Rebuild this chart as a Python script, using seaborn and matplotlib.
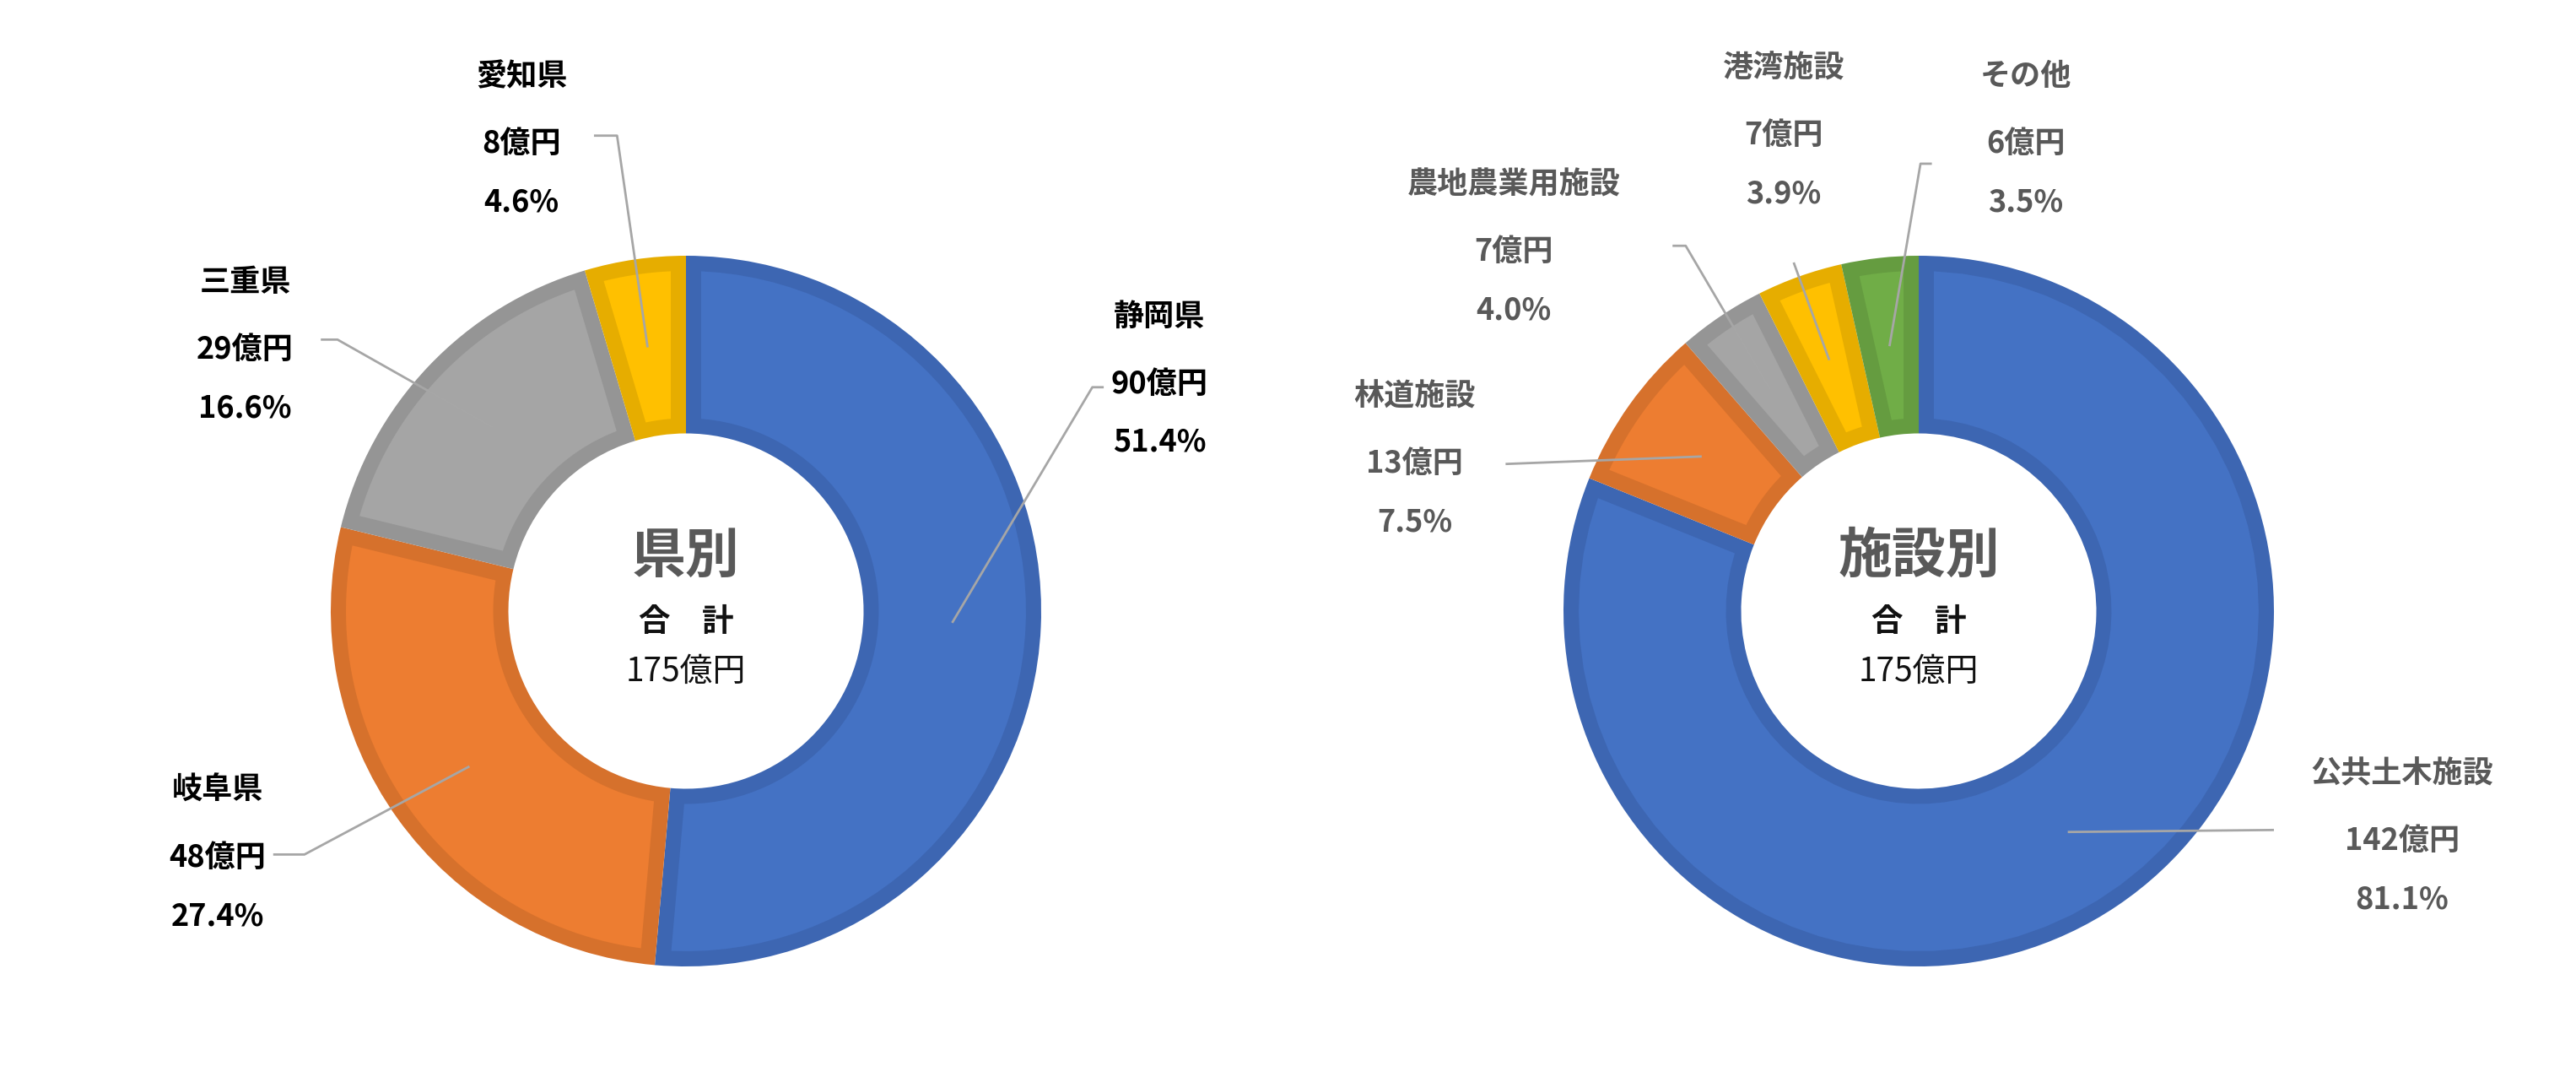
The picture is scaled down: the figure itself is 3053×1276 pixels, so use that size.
import numpy as np
import matplotlib
matplotlib.use("Agg")
import matplotlib.pyplot as plt
from matplotlib.patches import Polygon
import seaborn as sns

# 県別
pref_names = ["静岡県", "岐阜県", "三重県", "愛知県"]
pref_oku = [90, 48, 29, 8]
pref_pct = [51.4, 27.4, 16.6, 4.6]

# 施設別
fac_names = ["公共土木施設", "林道施設", "農地農業用施設", "港湾施設", "その他"]
fac_oku = [142, 13, 7, 7, 6]
fac_pct = [81.1, 7.5, 4.0, 3.9, 3.5]

total_oku = 175

sns.set_theme(style="white")
plt.rcParams['font.family'] = ['Noto Sans CJK JP', 'DejaVu Sans']

fills = ["#4472C4", "#ED7D31", "#A5A5A5", "#FFC000", "#70AD47"]
edges = ["#3D66B2", "#D6712C", "#959595", "#E6AD00", "#659C40"]

W, H = 3053, 1276
R_PX = 421
L = 1.7
RIN = 0.5
BORDER = 18 / R_PX   # inner border width in data units

fig = plt.figure(figsize=(W / 100, H / 100), dpi=100)


def make_ax(cx, cy):
    w = 2 * L * R_PX / W
    h = 2 * L * R_PX / H
    ax = fig.add_axes([cx / W - w / 2, 1 - cy / H - h / 2, w, h])
    return ax


def inset_poly(t1, t2, d):
    # annular sector shrunk inward by d on every side
    pts = []
    for r, rev in [(1 - d, False), (RIN + d, True)]:
        off = np.rad2deg(np.arcsin(d / r))
        a = np.linspace(t1 + off, t2 - off, 60)
        if rev:
            a = a[::-1]
        pts += [(r * np.cos(np.deg2rad(t)), r * np.sin(np.deg2rad(t))) for t in a]
    return np.array(pts)


def donut(ax, names, oku, pct, title, txt_color, label_pos, leader_pos):
    wedges, _ = ax.pie(pct, startangle=90, counterclock=False, radius=1.0,
                       colors=edges[:len(pct)],
                       wedgeprops=dict(width=1 - RIN, linewidth=0))
    ax.set_xlim(-L, L)
    ax.set_ylim(-L, L)
    ax.set_aspect("equal")
    ax.axis("off")
    for wd, fc in zip(wedges, fills):
        ax.add_patch(Polygon(inset_poly(wd.theta1, wd.theta2, BORDER),
                             closed=True, facecolor=fc, edgecolor="none"))

    cum = np.cumsum([0] + list(pct))
    tot = cum[-1]
    for i, name in enumerate(names):
        mid = (cum[i] + cum[i + 1]) / 2 / tot * 360
        ang = np.deg2rad(90 - mid)
        ex, ey = 0.75 * np.cos(ang), 0.75 * np.sin(ang)
        (sx, sy), (kx, ky) = leader_pos[i]
        ax.plot([sx, kx, ex], [sy, ky, ey], color="#A6A6A6", lw=2,
                clip_on=False, solid_capstyle="butt", zorder=5)
        tx, ty = label_pos[i]
        kw = dict(ha="center", va="center", fontsize=26, fontweight="bold",
                  color=txt_color)
        ax.text(tx, ty + 0.19, name, **kw)
        ax.text(tx, ty, f"{oku[i]}億円", **kw)
        ax.text(tx, ty - 0.165, f"{pct[i]:.1f}%", **kw)

    ax.text(0, 0.155, title, ha="center", va="center", fontsize=46,
            fontweight="bold", color="#595959")
    ax.text(0, -0.03, "合　計", ha="center", va="center", fontsize=27,
            fontweight="bold", color="#111111")
    ax.text(0, -0.17, f"{total_oku}億円", ha="center", va="center",
            fontsize=28, color="#111111")


ax1 = make_ax(813, 724)
donut(ax1, pref_names, pref_oku, pref_pct, "県別", "#000000",
      [(1.333, 0.639), (-1.319, -0.694), (-1.241, 0.736), (-0.463, 1.315)],
      [((1.176, 0.63), (1.144, 0.63)),
       ((-1.162, -0.685), (-1.074, -0.685)),
       ((-1.028, 0.764), (-0.981, 0.764)),
       ((-0.259, 1.338), (-0.194, 1.338))])

ax2 = make_ax(2274, 724)
donut(ax2, fac_names, fac_oku, fac_pct, "施設別", "#595959",
      [(1.361, -0.648), (-1.419, 0.414), (-1.14, 1.01), (-0.38, 1.338),
       (0.301, 1.315)],
      [((1.0, -0.616), (1.0, -0.616)),
       ((-1.163, 0.414), (-1.163, 0.414)),
       ((-0.693, 1.028), (-0.656, 1.028)),
       ((-0.352, 0.981), (-0.352, 0.981)),
       ((0.037, 1.259), (0.005, 1.259))])

fig.savefig("out.png", dpi=100, facecolor="white")
